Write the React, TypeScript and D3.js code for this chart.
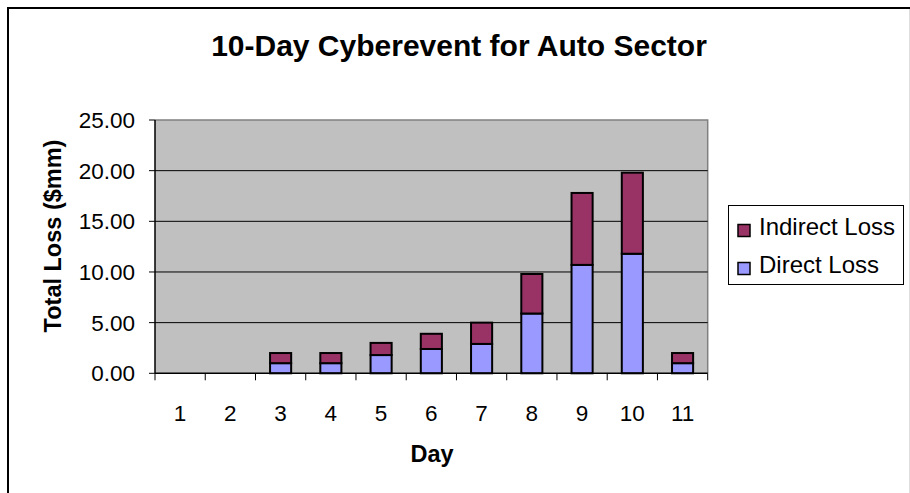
import React from "react";
import * as d3 from "d3";

const days = ["1", "2", "3", "4", "5", "6", "7", "8", "9", "10", "11"];
const directLoss = [0, 0, 1.0, 1.0, 1.8, 2.4, 2.9, 5.9, 10.7, 11.8, 1.0];
const indirectLoss = [0, 0, 1.0, 1.0, 1.2, 1.5, 2.1, 3.9, 7.1, 8.0, 1.0];
const yTicks = [0, 5, 10, 15, 20, 25];
const seriesNames = ["Indirect Loss", "Direct Loss"];
const seriesColors = ["#993366", "#9999FF"];

const W = 910;
const H = 493;
const plot = { left: 155, right: 707.7, top: 120, bottom: 373.3 };
const FONT = "Arial, 'Liberation Sans', sans-serif";

export default function App() {
  const x = d3
    .scaleBand<string>()
    .domain(days)
    .range([plot.left, plot.right])
    .paddingInner(0)
    .paddingOuter(0);
  const y = d3.scaleLinear().domain([0, 25]).range([plot.bottom, plot.top]);
  const barW = x.bandwidth() * 0.42;

  const rows = days.map((d, i) => ({ day: d, direct: directLoss[i], indirect: indirectLoss[i] }));
  const stack = d3.stack<any>().keys(["direct", "indirect"])(rows);

  const boundaries = days.map((d) => x(d)!).concat([plot.right]);

  return (
    <svg
      width={W}
      height={H}
      style={{ position: "absolute", left: 0, top: 0, background: "#fff" }}
      fontFamily={FONT}
    >
      {/* chart border */}
      <line x1={7} y1={8} x2={W} y2={8} stroke="#000" strokeWidth={2} />
      <line x1={8} y1={7} x2={8} y2={H} stroke="#000" strokeWidth={2} />
      <line x1={909.5} y1={9} x2={909.5} y2={H} stroke="#ddd" strokeWidth={1} />

      {/* title */}
      <text x={459} y={56} textAnchor="middle" fontSize={30} fontWeight="bold" fill="#000">
        10-Day Cyberevent for Auto Sector
      </text>

      {/* plot background */}
      <rect
        x={plot.left}
        y={plot.top}
        width={plot.right - plot.left}
        height={plot.bottom - plot.top}
        fill="#C0C0C0"
      />
      {/* plot border top/right */}
      <path
        d={`M${plot.left},${plot.top}H${plot.right}V${plot.bottom}`}
        fill="none"
        stroke="#808080"
        strokeWidth={1.5}
      />

      {/* gridlines */}
      {yTicks
        .filter((t) => t > 0 && t < 25)
        .map((t) => (
          <line
            key={"g" + t}
            x1={plot.left}
            x2={plot.right}
            y1={y(t)}
            y2={y(t)}
            stroke="#000"
            strokeWidth={1}
          />
        ))}

      {/* bars */}
      {stack.map((s, si) =>
        s.map((d, i) => {
          const h = y(d[0]) - y(d[1]);
          if (h <= 0) return null;
          return (
            <rect
              key={si + "-" + i}
              x={x(days[i])! + (x.bandwidth() - barW) / 2}
              y={y(d[1])}
              width={barW}
              height={h}
              fill={si === 0 ? seriesColors[1] : seriesColors[0]}
              stroke="#000"
              strokeWidth={2}
            />
          );
        })
      )}

      {/* y axis */}
      <line x1={plot.left} x2={plot.left} y1={plot.top} y2={plot.bottom} stroke="#000" strokeWidth={1.5} />
      {yTicks.map((t) => (
        <g key={"y" + t}>
          <line x1={plot.left - 6} x2={plot.left} y1={y(t)} y2={y(t)} stroke="#000" strokeWidth={1} />
          <text
            x={135}
            y={y(t)}
            dy="0.36em"
            textAnchor="end"
            fontSize={22.5}
            fill="#000"
          >
            {d3.format(".2f")(t)}
          </text>
        </g>
      ))}

      {/* x axis */}
      <line x1={plot.left} x2={plot.right} y1={plot.bottom} y2={plot.bottom} stroke="#000" strokeWidth={1.5} />
      {boundaries.map((bx, i) => (
        <line key={"xt" + i} x1={bx} x2={bx} y1={plot.bottom} y2={plot.bottom + 7} stroke="#000" strokeWidth={1} />
      ))}
      {days.map((d) => (
        <text
          key={"xl" + d}
          x={x(d)! + x.bandwidth() / 2}
          y={421}
          textAnchor="middle"
          fontSize={22.5}
          fill="#000"
        >
          {d}
        </text>
      ))}

      {/* axis titles */}
      <text x={432} y={462} textAnchor="middle" fontSize={23.5} fontWeight="bold" fill="#000">
        Day
      </text>
      <text
        transform={`translate(61,236) rotate(-90)`}
        textAnchor="middle"
        fontSize={23.5}
        fontWeight="bold"
        fill="#000"
      >
        Total Loss ($mm)
      </text>

      {/* legend */}
      <rect x={728.5} y={205.5} width={175} height={79} fill="#fff" stroke="#000" strokeWidth={1} />
      {seriesNames.map((name, i) => (
        <g key={"lg" + i}>
          <rect
            x={738}
            y={224.5 + i * 38}
            width={12}
            height={12}
            fill={seriesColors[i]}
            stroke="#000"
            strokeWidth={1.5}
          />
          <text x={759} y={235 + i * 38} fontSize={24} fill="#000">
            {name}
          </text>
        </g>
      ))}
    </svg>
  );
}
